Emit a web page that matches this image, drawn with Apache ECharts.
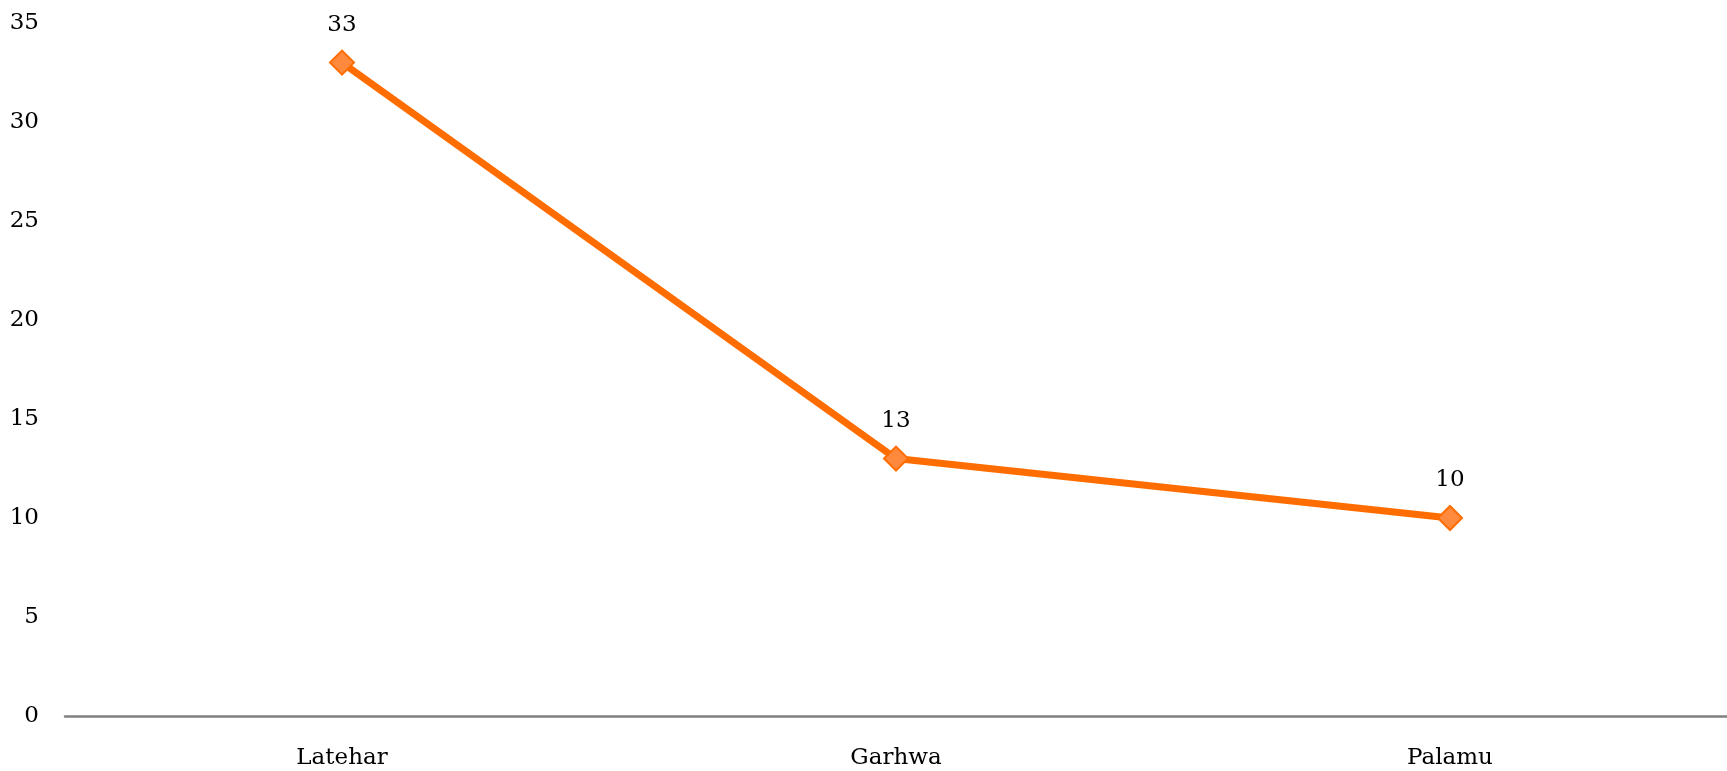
<!DOCTYPE html>
<html>
<head>
<meta charset="utf-8">
<script src="https://cdn.jsdelivr.net/npm/echarts@6/dist/echarts.min.js"></script>
<style>
html,body{margin:0;padding:0;background:#fff;}
#chart{width:1727px;height:771px;}
</style>
</head>
<body>
<div id="chart"></div>
<script>
const categories = ["Latehar", "Garhwa", "Palamu"];
const values = [33, 13, 10];
const yTicks = [0, 5, 10, 15, 20, 25, 30, 35];

const FONT = "DejaVu Serif";
const chart = echarts.init(document.getElementById('chart'), null, {renderer: 'canvas'});
chart.setOption({
  animation: false,
  backgroundColor: '#ffffff',
  grid: {left: 65, top: 23, width: 1674, bottom: 55, containLabel: false},
  xAxis: {
    type: 'category',
    data: categories,
    boundaryGap: true,
    axisLine: {show: true, lineStyle: {color: '#808080', width: 2.5}},
    axisTick: {show: false},
    axisLabel: {fontFamily: FONT, fontSize: 23, color: '#000', margin: 31}
  },
  yAxis: {
    type: 'value',
    min: yTicks[0],
    max: yTicks[yTicks.length - 1],
    interval: 5,
    axisLine: {show: false},
    axisTick: {show: false},
    splitLine: {show: false},
    axisLabel: {fontFamily: FONT, fontSize: 23, color: '#000', margin: 26, align: 'right'}
  },
  series: [{
    type: 'line',
    data: values,
    symbol: 'rect',
    symbolRotate: 45,
    symbolSize: 17,
    lineStyle: {color: '#ff6d00', width: 7},
    itemStyle: {color: '#ff8a3d', borderColor: '#ff6d00', borderWidth: 2},
    label: {show: true, position: 'top', distance: 13, fontFamily: FONT, fontSize: 23, color: '#000'}
  }]
});
</script>
</body>
</html>
